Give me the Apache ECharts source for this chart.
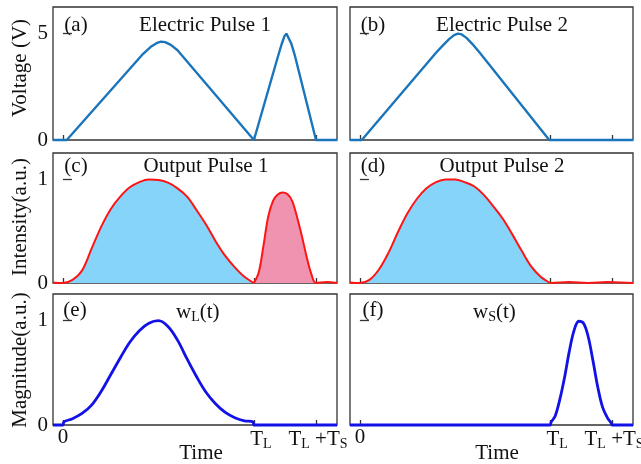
<!DOCTYPE html>
<html>
<head>
<meta charset="utf-8">
<script src="https://cdn.jsdelivr.net/npm/echarts@6/dist/echarts.min.js"></script>
<style>
  html, body { margin: 0; padding: 0; background: #fff; }
  #chart { width: 641px; height: 464px; }
</style>
</head>
<body>
<div id="chart"></div>
<script>
// time axis: 0, T_L, T_L + T_S (T_L = 1)
const timeTicks = [0, 1, 1.325];
const timeMin = -0.052;
const timeMax = 1.435;

// (a) electric pulse 1, volts
const elec1 = [
  [-0.052, 0], [0.02, 0], [0.42, 4.05], [0.46, 4.38], [0.49, 4.55], [0.513, 4.62],
  [0.535, 4.6], [0.565, 4.47], [0.60, 4.22], [1.0, 0],
  [1.125, 3.9], [1.145, 4.5], [1.16, 4.88], [1.17, 5.0], [1.18, 4.92], [1.195, 4.55],
  [1.215, 3.95], [1.325, 0], [1.435, 0]
];
// (b) electric pulse 2, volts
const elec2 = [
  [-0.052, 0], [0.01, 0], [0.40, 4.1], [0.44, 4.48], [0.47, 4.75], [0.495, 4.93],
  [0.515, 5.0], [0.535, 4.96], [0.56, 4.8], [0.59, 4.52], [0.63, 4.1], [0.995, 0], [1.435, 0]
];
// (c) output pulse 1: long part (0..T_L) and short part (T_L..T_L+T_S)
const out1Long = [
  [-0.052, 0.005], [0, 0], [0.05, 0.03], [0.10, 0.12], [0.15, 0.33], [0.20, 0.54],
  [0.25, 0.71], [0.30, 0.83], [0.35, 0.92], [0.40, 0.97], [0.45, 0.995], [0.50, 0.99],
  [0.55, 0.965], [0.60, 0.91], [0.65, 0.83], [0.70, 0.70], [0.75, 0.56], [0.80, 0.40],
  [0.85, 0.26], [0.90, 0.15], [0.95, 0.06], [1.0, 0]
];
const out1Short = [
  [1.0, 0], [1.025, 0.1], [1.05, 0.36], [1.075, 0.64], [1.10, 0.79], [1.125, 0.85],
  [1.15, 0.87], [1.175, 0.855], [1.20, 0.79], [1.225, 0.64], [1.25, 0.46], [1.275, 0.26],
  [1.30, 0.09], [1.325, 0], [1.38, 0.01], [1.435, 0]
];
// (d) output pulse 2
const out2 = [
  [-0.052, 0.005], [0, 0], [0.05, 0.03], [0.10, 0.13], [0.15, 0.29], [0.20, 0.49],
  [0.25, 0.67], [0.30, 0.81], [0.35, 0.91], [0.40, 0.97], [0.45, 0.995], [0.50, 0.995],
  [0.55, 0.97], [0.60, 0.93], [0.65, 0.85], [0.70, 0.74], [0.75, 0.62], [0.80, 0.47],
  [0.85, 0.31], [0.90, 0.16], [0.95, 0.06], [1.0, 0]
];
const out2Tail = [[1.0, 0], [1.1, 0.01], [1.2, 0], [1.3, 0.01], [1.435, 0]];
// (e) w_L(t)
const winL = [
  [-0.052, 0], [0, 0], [0.005, 0.03], [0.05, 0.06], [0.10, 0.11], [0.15, 0.19],
  [0.20, 0.32], [0.25, 0.48], [0.30, 0.64], [0.35, 0.79], [0.40, 0.90], [0.45, 0.97],
  [0.50, 0.995], [0.55, 0.94], [0.60, 0.81], [0.65, 0.63], [0.70, 0.46], [0.75, 0.31],
  [0.80, 0.20], [0.85, 0.12], [0.90, 0.07], [0.95, 0.04], [0.995, 0.03], [1.0, 0],
  [1.2, 0], [1.435, 0]
];
// (f) w_S(t)
const winS = [
  [-0.052, 0], [0.5, 0], [0.95, 0], [1.0, 0], [1.005, 0.03], [1.025, 0.08], [1.05, 0.24],
  [1.075, 0.45], [1.10, 0.70], [1.125, 0.90], [1.15, 0.99], [1.175, 0.97], [1.20, 0.84],
  [1.225, 0.61], [1.25, 0.36], [1.275, 0.17], [1.30, 0.07], [1.32, 0.02], [1.325, 0],
  [1.38, 0], [1.435, 0]
];

const FONT = "'Liberation Serif', 'Times New Roman', serif";
const INK = '#111';
const FS = 21;

const chart = echarts.init(document.getElementById('chart'));

// panel boxes: [left, top, width, height]
const boxes = [
  [53, 7, 284, 133], [350, 7, 283, 133],
  [53, 153, 284, 130], [350, 153, 283, 130],
  [53, 294, 284, 131], [350, 294, 283, 131]
];

function timeLabel(v) {
  if (Math.abs(v) < 1e-6) return '{t|0}';
  if (Math.abs(v - 1) < 1e-6) return '{g|}{t|T}{s|L}';
  return '{h|}{t|T}{s|L}{t| +T}{s|S}';
}

const xAxes = boxes.map((b, i) => ({
  gridIndex: i,
  type: 'value',
  min: timeMin,
  max: timeMax,
  axisLine: { show: false },
  splitLine: { show: false },
  axisTick: {
    inside: true, length: 5, customValues: timeTicks,
    lineStyle: { color: '#333', width: 1.3 }
  },
  axisLabel: {
    show: i >= 4,
    customValues: timeTicks,
    margin: 2,
    hideOverlap: false,
    formatter: timeLabel,
    rich: {
      t: { fontFamily: FONT, fontSize: FS, color: INK },
      s: { fontFamily: FONT, fontSize: 14, color: INK, padding: [10, 0, 0, 0] },
      g: { width: 14 },
      h: { width: 4 }
    }
  }
}));

const yAxes = boxes.map((b, i) => {
  const top = i < 2 ? 5 : 1;
  return {
    gridIndex: i,
    type: 'value',
    min: 0,
    max: top * 1.25,
    axisLine: { show: false },
    splitLine: { show: false },
    axisTick: {
      inside: true, length: 9, customValues: [top],
      lineStyle: { color: '#333', width: 1.3 }
    },
    axisLabel: {
      show: i % 2 === 0,
      customValues: [0, top],
      margin: 5,
      fontFamily: FONT, fontSize: FS, color: INK
    }
  };
});

function lineSeries(idx, data, color, width, area, smooth) {
  return {
    type: 'line',
    xAxisIndex: idx,
    yAxisIndex: idx,
    data: data,
    showSymbol: false,
    clip: false,
    smooth: smooth,
    lineStyle: { color: color, width: width },
    areaStyle: area ? { color: area, opacity: 1 } : undefined,
    z: 3
  };
}

const RED = '#ff1414';
const series = [
  lineSeries(0, elec1, '#1b75bb', 2.4, null, false),
  lineSeries(1, elec2, '#1b75bb', 2.4, null, false),
  lineSeries(2, out1Long, RED, 2, '#87d4fa', 0.35),
  lineSeries(2, out1Short, RED, 2, '#ef93b0', 0.35),
  lineSeries(3, out2, RED, 2, '#87d4fa', 0.35),
  lineSeries(3, out2Tail, RED, 2, null, false),
  lineSeries(4, winL, '#1212e6', 2.8, null, 0.35),
  lineSeries(5, winS, '#1212e6', 2.8, null, 0.35)
];

function txt(x, y, text, rot) {
  return {
    type: 'text', x: x, y: y, z: 10, rotation: rot || 0,
    style: {
      text: text, fill: INK, font: FS + 'px ' + FONT,
      textAlign: 'center', textVerticalAlign: 'middle'
    }
  };
}

function richTxt(x, y, text) {
  return {
    type: 'text', x: x, y: y, z: 10,
    style: {
      text: text, fill: INK, textAlign: 'left', textVerticalAlign: 'middle',
      rich: {
        t: { fontFamily: FONT, fontSize: FS, fill: INK },
        s: { fontFamily: FONT, fontSize: 14, fill: INK, padding: [10, 0, 0, 0] }
      }
    }
  };
}

const graphics = [
  txt(76, 25, '(a)'), txt(205, 25, 'Electric Pulse 1'),
  txt(373, 25, '(b)'), txt(502, 25, 'Electric Pulse 2'),
  txt(76, 166, '(c)'), txt(206, 166, 'Output Pulse 1'),
  txt(373, 166, '(d)'), txt(502, 166, 'Output Pulse 2'),
  txt(75, 310, '(e)'), txt(373, 310, '(f)'),
  richTxt(176, 312, '{t|w}{s|L}{t|(t)}'),
  richTxt(473, 312, '{t|w}{s|S}{t|(t)}'),
  txt(201, 453, 'Time'),
  txt(497, 453, 'Time'),
  txt(20, 68, 'Voltage (V)', Math.PI / 2),
  txt(20, 217, 'Intensity(a.u.)', Math.PI / 2),
  txt(20, 360, 'Magnitude(a.u.)', Math.PI / 2)
];

chart.setOption({
  animation: false,
  backgroundColor: '#fff',
  grid: boxes.map(b => ({
    left: b[0], top: b[1], width: b[2], height: b[3],
    outerBoundsMode: 'none',
    show: true, borderColor: '#333', borderWidth: 1.3, backgroundColor: 'transparent'
  })),
  xAxis: xAxes,
  yAxis: yAxes,
  series: series,
  graphic: graphics
});
</script>
</body>
</html>
